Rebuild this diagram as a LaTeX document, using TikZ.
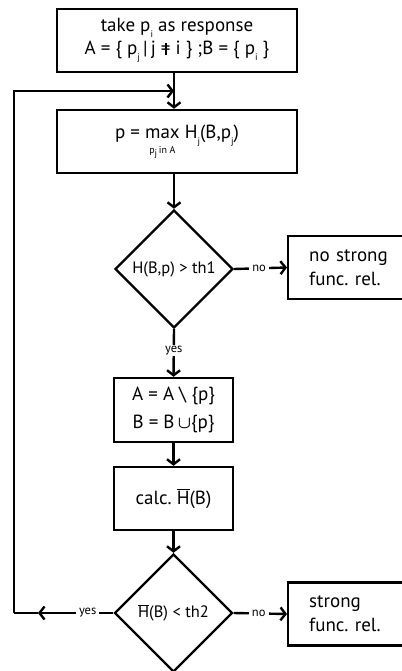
\documentclass[tikz,border=0pt]{standalone}
\usepackage{fontspec}
\setmainfont{PT Sans}
\usetikzlibrary{shapes.geometric,arrows.meta}
\frenchspacing
\newcommand{\lsub}[1]{\raisebox{-0.6ex}{\fontsize{9.5}{9.5}\selectfont #1}}
\newcommand{\maxop}{\begin{tabular}[t]{@{}c@{}}max\\[-9pt]{\fontsize{10}{10}\selectfont p\lsub{j}\,in A}\end{tabular}}
\newcommand{\Hbar}{\ensuremath{\overline{\mbox{H}}}}
\newcommand{\neqv}{\ooalign{=\cr\hidewidth\rule[-0.02em]{0.09em}{0.62em}\hidewidth}}
\begin{document}
\begin{tikzpicture}[x=1pt,y=-1pt,
  box/.style={draw, line width=2.4pt, inner sep=0pt, align=center,
    font=\fontsize{19}{24}\selectfont},
  sidebox/.style={draw, line width=2.4pt, anchor=west, inner xsep=21pt, inner ysep=0pt,
    text width=82pt, align=left, minimum height=63pt, font=\fontsize{19}{24}\selectfont},
  dia/.style={diamond, draw, line width=2.4pt, inner sep=0pt, minimum width=118pt,
    minimum height=118pt, font=\fontsize{16.5}{20}\selectfont},
  lbl/.style={fill=white, inner xsep=3pt, inner ysep=1pt, font=\fontsize{12.5}{14}\selectfont},
  conn/.style={line width=2.4pt, -{Straight Barb[length=5pt,width=13pt,line width=2.4pt]}},
  plain/.style={line width=2.4pt}
]
\useasboundingbox[fill=white] (0,0) rectangle (401,671);

\node[box, minimum width=240pt, minimum height=63pt] (top) at (177,40.5)
  {take p\lsub{i} as response\\[-1pt]
   A = \{ p\lsub{j}\,|\,j \neqv\ i \} ;B = \{ p\lsub{i} \}};
\node[box, minimum width=240pt, minimum height=63pt] (maxb) at (177,141.5)
  {p = \maxop\ H\lsub{j}(B,p\lsub{j})};
\node[dia] (d1) at (174,269) {H(B,p) > th1};
\node[sidebox] (nos) at (287,267.5) {no strong\\func. rel.};
\node[box, minimum width=119pt, minimum height=64pt, font=\fontsize{19}{28}\selectfont] (ab) at (173.5,410)
  {A = A \textbackslash\ \{p\}\\B = B\,{\boldmath$\cup$}\{p\}};
\node[box, minimum width=119pt, minimum height=63pt] (calc) at (173.5,498.5) {calc. \Hbar(B)};
\node[dia] (d2) at (173.5,613) {\Hbar(B) < th2};
\node[sidebox] (str) at (287,614) {strong\\func. rel.};

\coordinate (j) at (174,91);
\coordinate (lb) at (14,613);
\coordinate (lt) at (14,91);
\coordinate (ym) at (38,613);

\draw[conn] (top.south -| j) -- (maxb.north -| j);
\draw[conn] (lb) -- (lt) -- (j);
\draw[conn] (maxb.south -| j) -- (d1.north);
\draw[conn] (d1.east) -- node[lbl, pos=0.47] {no} (nos.west);
\draw[conn] (d1.south) -- node[lbl, pos=0.45] {yes} (ab.north);
\draw[conn] (ab.south) -- (calc.north);
\draw[conn] (calc.south) -- (d2.north);
\draw[conn] (d2.east) -- node[lbl, pos=0.47] {no} (str.west);
\draw[conn] (d2.west) -- node[lbl, pos=0.34] {yes} (ym);
\draw[plain] (ym) -- (lb);
\end{tikzpicture}
\end{document}
